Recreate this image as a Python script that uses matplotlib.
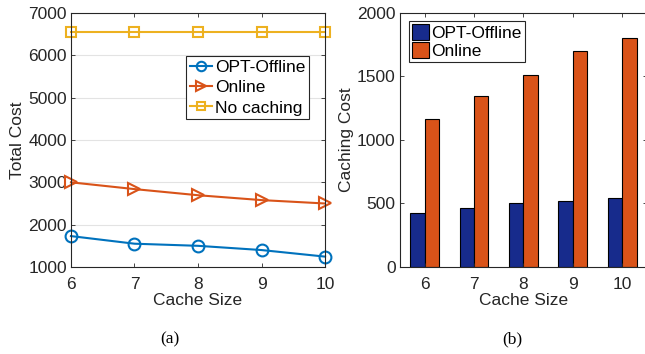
import matplotlib
matplotlib.use('Agg')
import matplotlib.pyplot as plt
import numpy as np

# cache sizes on the x axis
cache_size = [6, 7, 8, 9, 10]

# (a) total cost
total_opt = [1730, 1550, 1500, 1400, 1245]
total_online = [3000, 2840, 2695, 2580, 2500]
total_nocache = [6550, 6550, 6550, 6550, 6550]

# (b) caching cost
cach_opt = [423, 462, 502, 522, 543]
cach_online = [1165, 1346, 1512, 1701, 1806]

plt.rcParams['font.family'] = ['Liberation Sans', 'DejaVu Sans']
plt.rcParams['font.size'] = 12.5
dark = '#262626'

fig = plt.figure(figsize=(6.45, 3.54), dpi=100)

# ---- left: total cost lines
ax1 = fig.add_axes([0.110, 0.2458, 0.394, 0.7175])
ax1.plot(cache_size, total_opt, '-o', color='#0072BD', lw=1.5, ms=8.5,
         mfc='none', mew=1.5, label='OPT-Offline', clip_on=False)
ax1.plot(cache_size, total_online, '->', color='#D95319', lw=1.5, ms=8.5,
         mfc='none', mew=1.5, label='Online', clip_on=False)
ax1.plot(cache_size, total_nocache, '-s', color='#EDB120', lw=1.5, ms=7,
         mfc='none', mew=1.5, label='No caching', clip_on=False)
ax1.set_xlim(6, 10)
ax1.set_ylim(1000, 7000)
ax1.set_xticks(cache_size)
ax1.set_yticks(range(1000, 7001, 1000))
ax1.yaxis.grid(True, color='#e3e3e3', lw=0.8)
ax1.set_axisbelow(True)
ax1.set_xlabel('Cache Size', color=dark, labelpad=1)
ax1.set_ylabel('Total Cost', color=dark, labelpad=2)
leg = ax1.legend(loc='upper right', bbox_to_anchor=(0.935, 0.83),
                 fancybox=False, edgecolor=dark, framealpha=1,
                 borderpad=0.2, labelspacing=0.3, handlelength=1.3,
                 handletextpad=0.15, borderaxespad=0, markerscale=0.8)
leg.get_frame().set_linewidth(0.8)

# ---- right: caching cost bars
ax2 = fig.add_axes([0.620, 0.2458, 0.383, 0.7175])
x = np.array(cache_size)
w = 0.29
ax2.bar(x - w / 2, cach_opt, w, color='#172B8C', edgecolor='black',
        lw=0.8, label='OPT-Offline')
ax2.bar(x + w / 2, cach_online, w, color='#D95319', edgecolor='black',
        lw=0.8, label='Online')
ax2.set_xlim(5.5, 10.5)
ax2.set_ylim(0, 2000)
ax2.set_xticks(cache_size)
ax2.set_yticks(range(0, 2001, 500))
ax2.set_xlabel('Cache Size', color=dark, labelpad=1)
ax2.set_ylabel('Caching Cost', color=dark, labelpad=2)
leg2 = ax2.legend(loc='upper left', bbox_to_anchor=(0.037, 0.967),
                  fancybox=False, edgecolor=dark, framealpha=1,
                  borderpad=0.15, labelspacing=0.1, handlelength=1.0,
                  handleheight=1.0, handletextpad=0.15, borderaxespad=0)
leg2.get_frame().set_linewidth(0.8)

for ax in (ax1, ax2):
    ax.tick_params(direction='in', top=True, right=True, colors=dark,
                   labelsize=12.5, length=3, width=0.6, pad=3)
    ax.tick_params(axis='x', pad=7)
    for s in ax.spines.values():
        s.set_color(dark)
        s.set_linewidth(0.8)

fig.text(0.264, 0.04, '(a)', family=['Liberation Serif', 'DejaVu Serif'],
         fontsize=12.5, ha='center', va='center')
fig.text(0.794, 0.04, '(b)', family=['Liberation Serif', 'DejaVu Serif'],
         fontsize=12.5, ha='center', va='center')

fig.savefig('out.png', dpi=100)
